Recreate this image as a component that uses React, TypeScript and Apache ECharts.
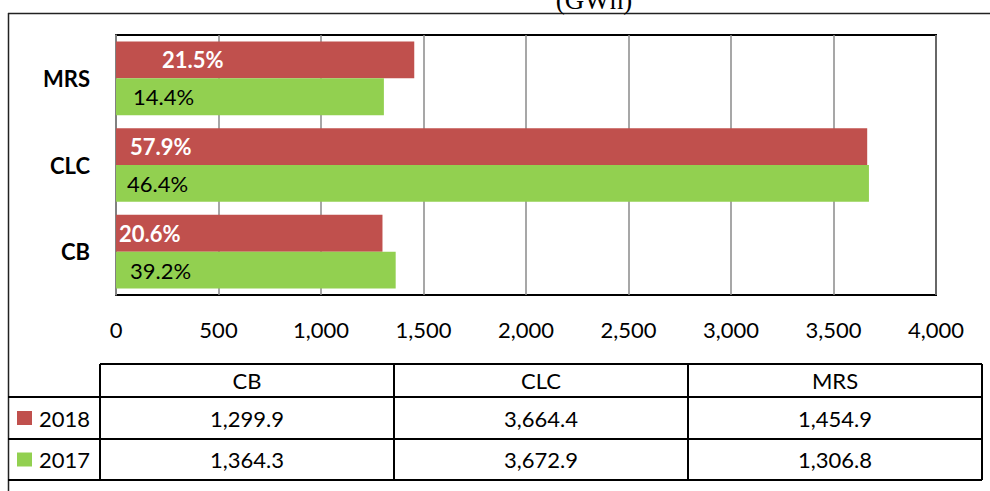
import React, { useEffect, useRef } from "react";
import * as echarts from "echarts";

const categories = ["CB", "CLC", "MRS"];
const values2018 = [1299.9, 3664.4, 1454.9];
const values2017 = [1364.3, 3672.9, 1306.8];
const share2018 = [20.6, 57.9, 21.5];
const share2017 = [39.2, 46.4, 14.4];
const seriesNames = ["2018", "2017"];
const xTicks = [0, 500, 1000, 1500, 2000, 2500, 3000, 3500, 4000];
const titleText = "(GWh)";

// label inset (px) from bar start, per category, as placed in the original
const labelInset2018 = [3, 14, 46];
const labelInset2017 = [14, 11, 17];

const RED = "#C0504D";
const GREEN = "#92D050";
const FONT = "Lato";

const fmt = (v: number) =>
  v.toLocaleString("en-US", { minimumFractionDigits: 1, maximumFractionDigits: 1 });

export default function App() {
  const ref = useRef<HTMLDivElement>(null);
  useEffect(() => {
    document.body.style.margin = "0";
    if (!ref.current) return;
    const chart = echarts.init(ref.current, undefined, { renderer: "svg" });

    const colX = [100, 394, 688, 982];
    const rowY = [364, 397, 439, 480];
    const graphics: any[] = [];
    const line = (x1: number, y1: number, x2: number, y2: number, w = 2, c = "#000") =>
      graphics.push({
        type: "line",
        shape: { x1, y1, x2, y2 },
        style: { stroke: c, lineWidth: w },
        silent: true,
      });
    // outer frame
    line(8.5, 13, 8.5, 491, 1.5, "#222");
    line(8, 13.5, 990, 13.5, 1.5, "#222");
    // title (cut at the top, as in the original)
    graphics.push({
      type: "text",
      x: 594,
      y: 0,
      style: {
        text: titleText,
        font: "27px 'Liberation Serif', 'Times New Roman', serif",
        fill: "#000",
        align: "center",
        verticalAlign: "middle",
      },
    });
    // table lines
    line(colX[0], rowY[0], colX[3], rowY[0]);
    for (let i = 1; i < rowY.length; i++) line(8, rowY[i], colX[3], rowY[i]);
    for (const x of colX) line(x, rowY[0], x, rowY[3]);
    // header texts
    categories.forEach((c, i) => {
      graphics.push({
        type: "text",
        x: (colX[i] + colX[i + 1]) / 2,
        y: (rowY[0] + rowY[1]) / 2,
        style: { text: c, font: `22px ${FONT}`, fill: "#000", align: "center", verticalAlign: "middle" },
      });
    });
    const rows = [
      { name: seriesNames[0], color: RED, vals: values2018 },
      { name: seriesNames[1], color: GREEN, vals: values2017 },
    ];
    rows.forEach((r, ri) => {
      const yc = (rowY[ri + 1] + rowY[ri + 2]) / 2;
      graphics.push({
        type: "rect",
        shape: { x: 17, y: yc - 7, width: 15, height: 14 },
        style: { fill: r.color },
      });
      graphics.push({
        type: "text",
        x: 39,
        y: yc,
        style: { text: r.name, font: `22px ${FONT}`, fill: "#000", align: "left", verticalAlign: "middle" },
      });
      r.vals.forEach((v, i) => {
        graphics.push({
          type: "text",
          x: (colX[i] + colX[i + 1]) / 2,
          y: yc,
          style: { text: fmt(v), font: `22px ${FONT}`, fill: "#000", align: "center", verticalAlign: "middle" },
        });
      });
    });

    const option: any = {
      animation: false,
      textStyle: { fontFamily: FONT },
      grid: {
        left: 116,
        top: 35,
        right: 54,
        bottom: 196,
        show: true,
        borderColor: "#000",
        borderWidth: 2,
        backgroundColor: "transparent",
      },
      xAxis: {
        type: "value",
        min: xTicks[0],
        max: xTicks[xTicks.length - 1],
        interval: xTicks[1] - xTicks[0],
        axisLine: { show: false },
        axisTick: { show: false },
        splitLine: { show: true, lineStyle: { color: "#8a8a8a", width: 1.5 } },
        axisLabel: {
          fontSize: 22,
          fontFamily: FONT,
          color: "#000",
          margin: 23,
          formatter: (v: number) => v.toLocaleString("en-US"),
        },
      },
      yAxis: {
        type: "category",
        data: categories,
        axisLine: { show: true, lineStyle: { color: "#8a8a8a", width: 1.5 } },
        axisTick: { show: false },
        axisLabel: { fontSize: 22, fontWeight: "bold", fontFamily: FONT, color: "#000", margin: 26 },
      },
      series: [
        {
          name: seriesNames[0],
          type: "bar",
          barGap: "0%",
          barCategoryGap: "15%",
          itemStyle: { color: RED },
          data: values2018.map((v, i) => ({
            value: v,
            label: { distance: labelInset2018[i] },
          })),
          label: {
            show: true,
            position: "insideLeft",
            fontSize: 22,
            fontWeight: "bold",
            fontFamily: FONT,
            color: "#fff",
            formatter: (p: any) => share2018[p.dataIndex].toFixed(1) + "%",
          },
        },
        {
          name: seriesNames[1],
          type: "bar",
          barGap: "0%",
          barCategoryGap: "15%",
          itemStyle: { color: GREEN },
          data: values2017.map((v, i) => ({
            value: v,
            label: { distance: labelInset2017[i] },
          })),
          label: {
            show: true,
            position: "insideLeft",
            fontSize: 22,
            fontFamily: FONT,
            color: "#000",
            formatter: (p: any) => share2017[p.dataIndex].toFixed(1) + "%",
          },
        },
      ],
      graphic: graphics,
    };
    chart.setOption(option);
    return () => chart.dispose();
  }, []);
  return <div ref={ref} style={{ width: 990, height: 491 }} />;
}
